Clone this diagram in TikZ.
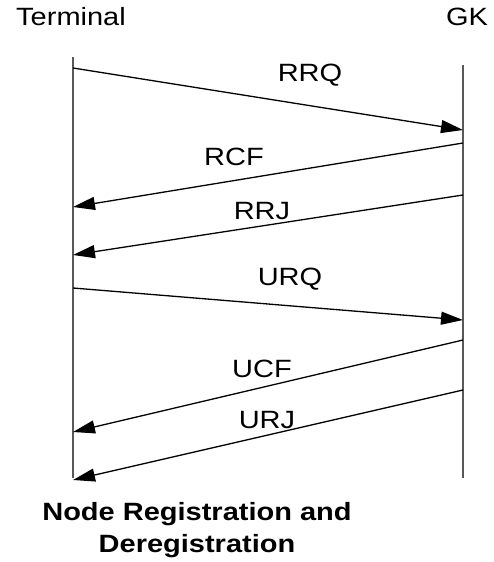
\documentclass[tikz,border=0pt]{standalone}
\usepackage{fontspec}
\setmainfont[FakeStretch=1.16]{Liberation Sans}
\usetikzlibrary{arrows.meta,positioning}

\begin{document}
\begin{tikzpicture}[x=1pt,y=-1pt,every node/.style={font=\fontsize{25}{30}\selectfont},
  lifeline/.style={draw=black!65,line width=2pt},
  msg/.style={line width=1.3pt,-{Triangle[length=22pt,width=13pt]}}]
  \useasboundingbox (0,0) rectangle (494,562);
  %% Headers
  \node (term) at (71,17) {Terminal};
  \node (gk) at (467,17) {GK};
  %% Lifelines
  \coordinate (ttop) at (73,57);
  \coordinate (tbot) at (73,478);
  \coordinate (gtop) at (463,65);
  \coordinate (gbot) at (463,478);
  \draw[lifeline] (ttop) -- (tbot);
  \draw[lifeline] (gtop) -- (gbot);
  %% Message end points
  \coordinate (rrqa) at (73,68);   \coordinate (rrqb) at (463,130);
  \coordinate (rcfa) at (463,143); \coordinate (rcfb) at (73,207);
  \coordinate (rrja) at (463,195); \coordinate (rrjb) at (73,255);
  \coordinate (urqa) at (73,288);  \coordinate (urqb) at (463,320);
  \coordinate (ucfa) at (463,340); \coordinate (ucfb) at (73,432);
  \coordinate (urja) at (463,390); \coordinate (urjb) at (73,480);
  %% Messages
  \draw[msg] (rrqa) -- (rrqb);
  \draw[msg] (rcfa) -- (rcfb);
  \draw[msg] (rrja) -- (rrjb);
  \draw[msg] (urqa) -- (urqb);
  \draw[msg] (ucfa) -- (ucfb);
  \draw[msg] (urja) -- (urjb);
  %% Labels
  \node (rrq) at (310,75) {RRQ};
  \node (rcf) at (234,157) {RCF};
  \node (rrj) at (262,211) {RRJ};
  \node (urq) at (290,279) {URQ};
  \node (ucf) at (262,369) {UCF};
  \node (urj) at (267,420) {URJ};
  %% Caption
  \node[font=\fontsize{25}{32}\selectfont\bfseries,align=center] (cap) at (197,530)
        {Node Registration and\\Deregistration};
\end{tikzpicture}
\end{document}
